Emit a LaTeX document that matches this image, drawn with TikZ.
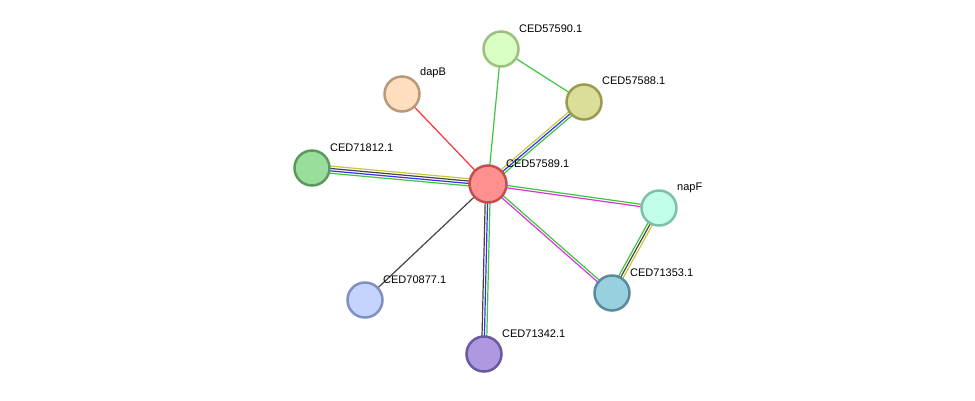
\documentclass[tikz,border=0pt]{standalone}
\usepackage{fontspec}
\setmainfont{Liberation Sans}
\usetikzlibrary{calc,backgrounds}
\definecolor{eg}{HTML}{3DC63D}
\definecolor{eb}{HTML}{3333EE}
\definecolor{ey}{HTML}{C8C83A}
\definecolor{ek}{HTML}{444444}
\definecolor{em}{HTML}{DD33DD}
\definecolor{er}{HTML}{FF3333}
\tikzset{
  prot/.style={circle, minimum size=35pt, inner sep=0pt, line width=2.5pt},
  lbl/.style={anchor=west, inner sep=0pt, font=\fontsize{11}{13}\selectfont},
  ln/.style={line width=1.2pt},
}
\newcommand{\sedge}[4]{\draw[ln,#4] ($(#1.center)!#3*2.4pt!90:(#2.center)$) -- ($(#2.center)!#3*2.4pt!-90:(#1.center)$);}
\begin{document}
\begin{tikzpicture}[x=1pt,y=-1pt]
\useasboundingbox (0,0) rectangle (975,400);
\node[prot, minimum size=37pt, fill={rgb,255:red,255;green,145;blue,145}, draw={rgb,255:red,192;green,80;blue,80}] (hub) at (488,184) {};
\node[prot, fill={rgb,255:red,218;green,255;blue,196}, draw={rgb,255:red,157;green,192;blue,126}] (c590) at (501,49) {};
\node[prot, fill={rgb,255:red,218;green,222;blue,152}, draw={rgb,255:red,154;green,154;blue,80}] (c588) at (584,102) {};
\node[prot, fill={rgb,255:red,255;green,222;blue,192}, draw={rgb,255:red,184;green,154;blue,122}] (dapb) at (402,94) {};
\node[prot, fill={rgb,255:red,154;green,222;blue,156}, draw={rgb,255:red,90;green,154;blue,94}] (c812) at (312,168) {};
\node[prot, fill={rgb,255:red,194;green,255;blue,234}, draw={rgb,255:red,126;green,192;blue,168}] (napf) at (659,208) {};
\node[prot, fill={rgb,255:red,152;green,208;blue,224}, draw={rgb,255:red,90;green,138;blue,156}] (c353) at (612,293) {};
\node[prot, fill={rgb,255:red,196;green,212;blue,255}, draw={rgb,255:red,128;green,144;blue,192}] (c877) at (365,300) {};
\node[prot, fill={rgb,255:red,174;green,152;blue,224}, draw={rgb,255:red,106;green,88;blue,160}] (c342) at (484,354) {};
\node[lbl] (l590) at (519,28.5) {CED57590.1};
\node[lbl] (ldapb) at (420,72.5) {dapB};
\node[lbl] (l588) at (602,80.5) {CED57588.1};
\node[lbl] (l812) at (330,147.5) {CED71812.1};
\node[lbl] (lhub) at (506,163.5) {CED57589.1};
\node[lbl] (lnapf) at (677,187.5) {napF};
\node[lbl] (l353) at (630,272.5) {CED71353.1};
\node[lbl] (l877) at (383,279.5) {CED70877.1};
\node[lbl] (l342) at (502,333.5) {CED71342.1};
\begin{pgfonlayer}{background}
\sedge{hub}{dapb}{0}{er}
\sedge{hub}{c590}{0}{eg}
\sedge{c590}{c588}{0}{eg}
\sedge{hub}{c588}{1}{ey}
\sedge{hub}{c588}{0}{eb}
\sedge{hub}{c588}{-1}{eg}
\sedge{hub}{c812}{-1.5}{ey}
\sedge{hub}{c812}{-0.5}{ek}
\sedge{hub}{c812}{0.5}{eb}
\sedge{hub}{c812}{1.5}{eg}
\sedge{hub}{c877}{0}{ek}
\sedge{hub}{c342}{-1}{ek}
\sedge{hub}{c342}{0}{eb}
\sedge{hub}{c342}{1}{eg}
\sedge{hub}{napf}{0.5}{eg}
\sedge{hub}{napf}{-0.5}{em}
\sedge{hub}{c353}{0.5}{eg}
\sedge{hub}{c353}{-0.5}{em}
\sedge{napf}{c353}{-1}{eg}
\sedge{napf}{c353}{0}{ek}
\sedge{napf}{c353}{1}{ey}
\end{pgfonlayer}
\end{tikzpicture}
\end{document}
